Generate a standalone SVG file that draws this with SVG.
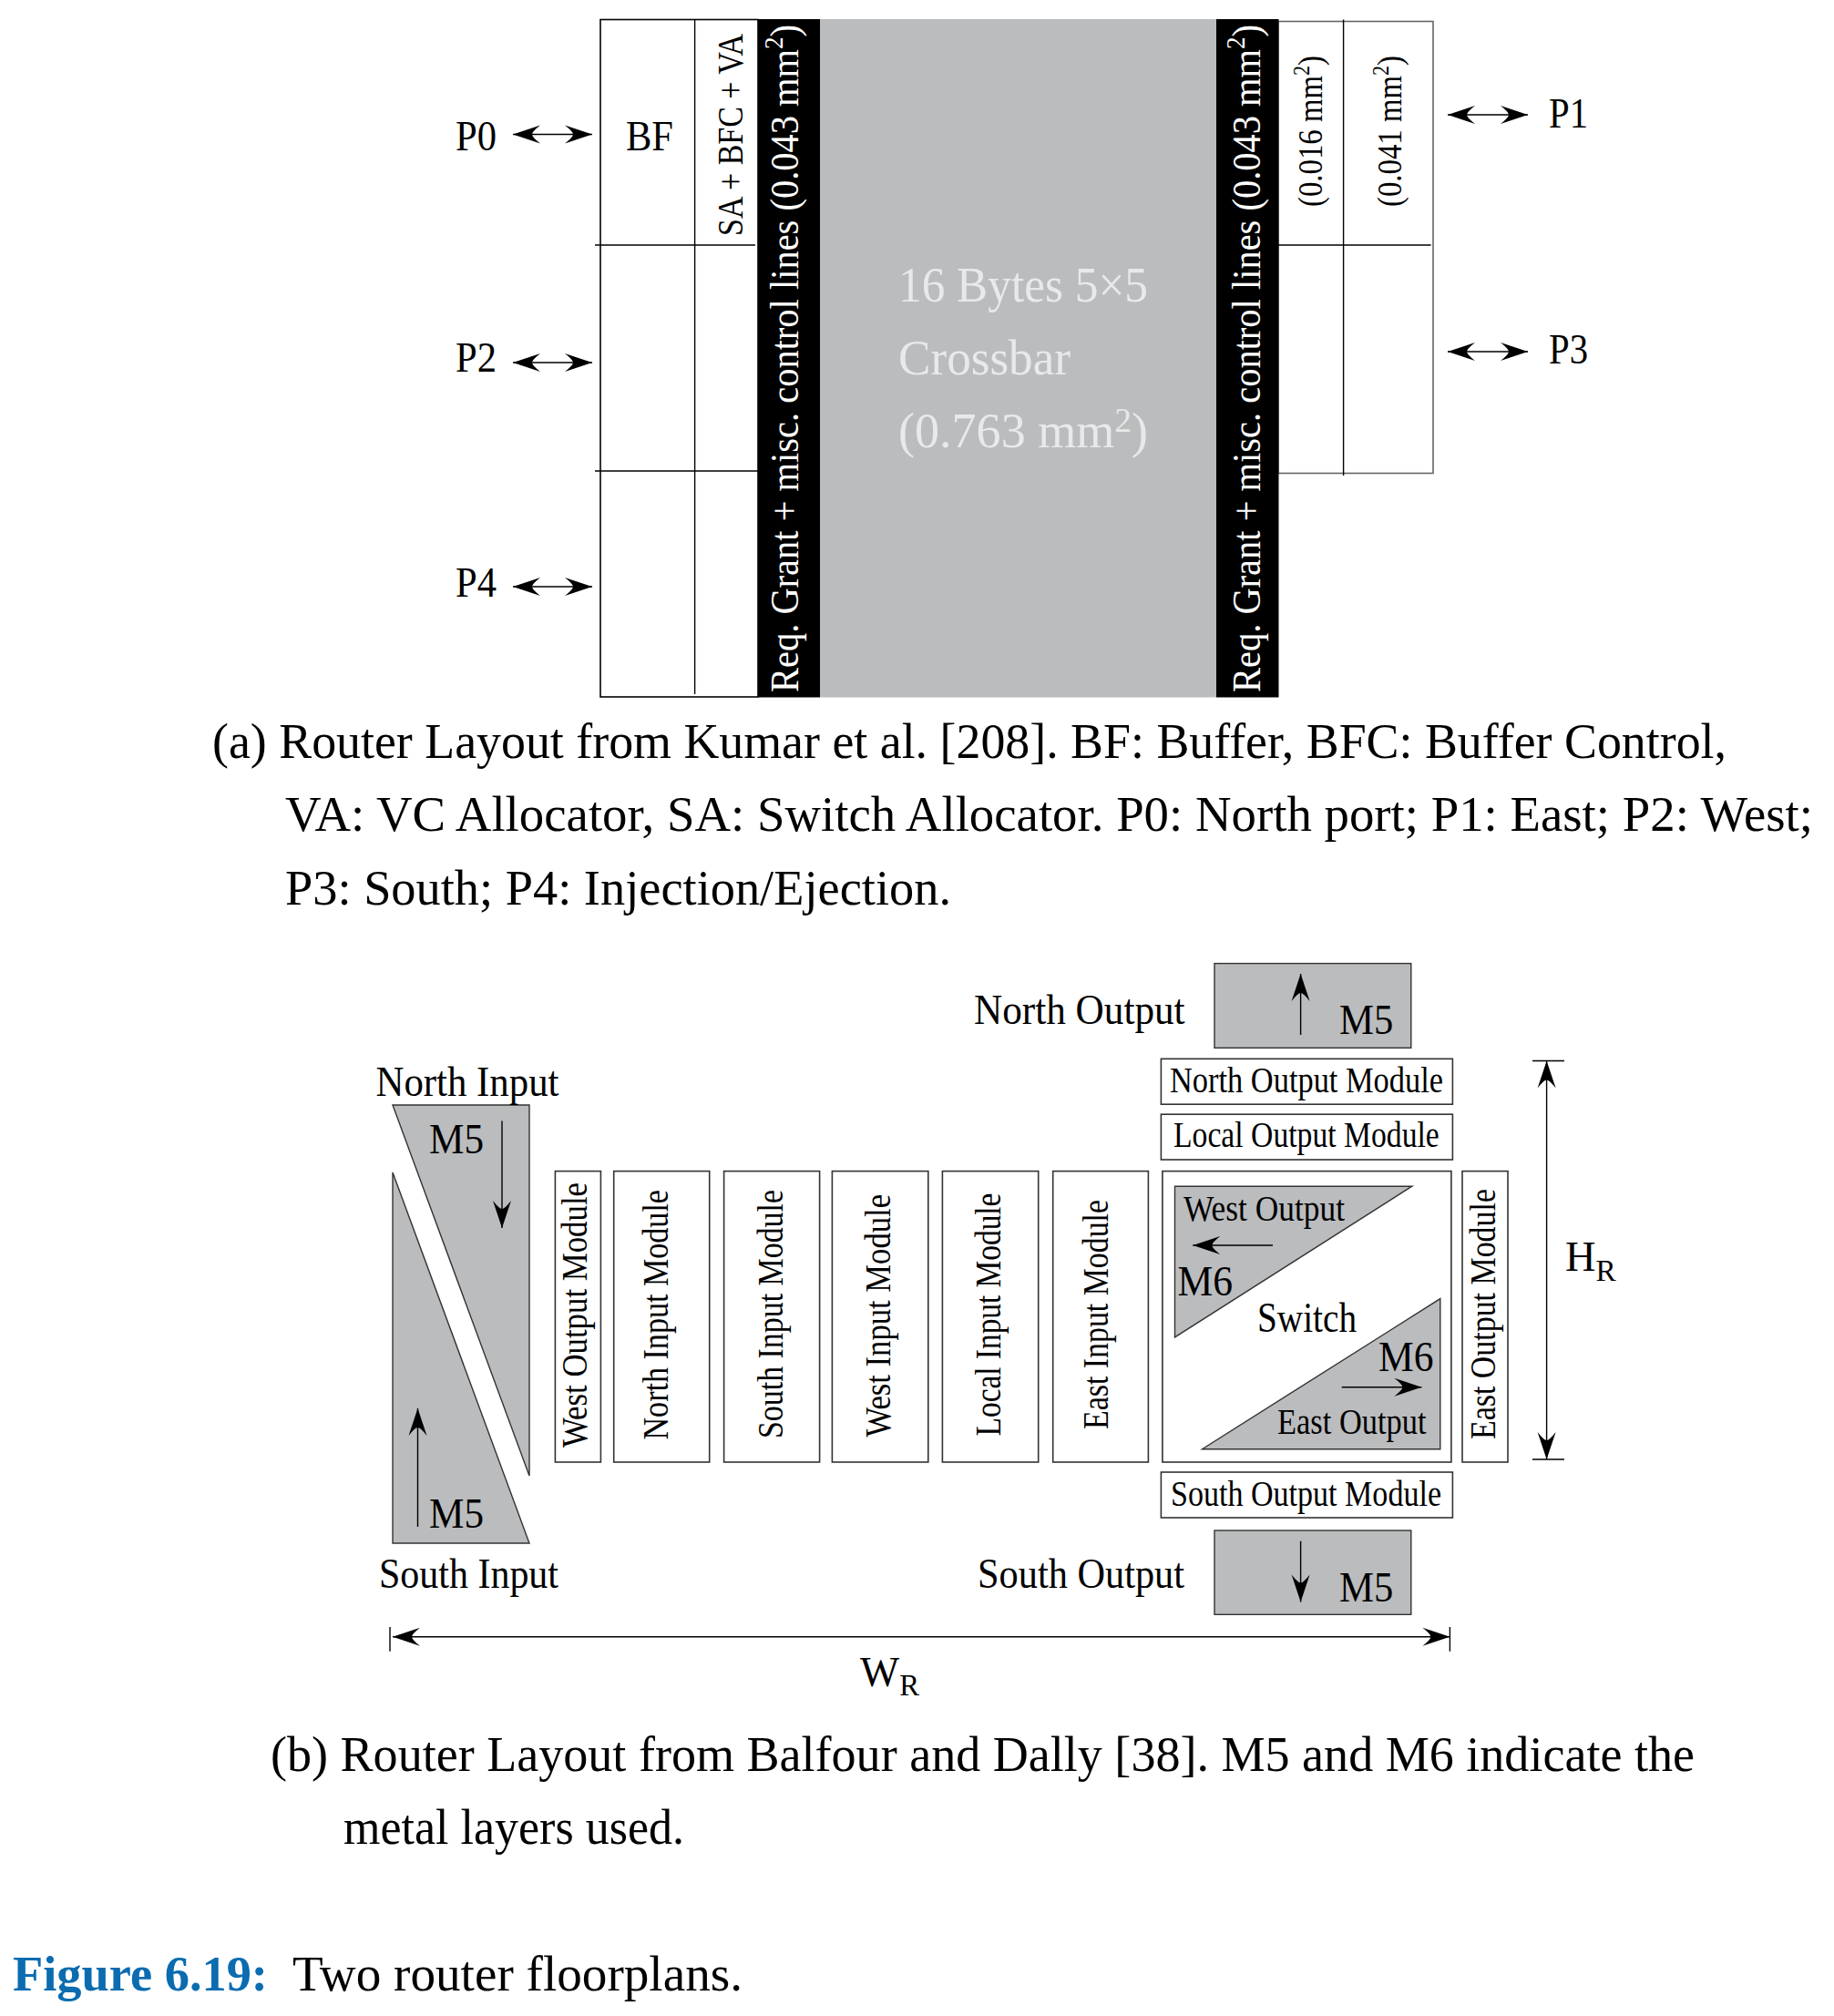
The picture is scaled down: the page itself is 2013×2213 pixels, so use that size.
<svg xmlns="http://www.w3.org/2000/svg" width="2013" height="2213" viewBox="0 0 2013 2213">
<style>
text{font-family:"Liberation Serif","Times New Roman",serif;fill:#000}
.cap{font-size:55px}.lab{font-size:46px}.mod{font-size:39px}.big{font-size:45px}
.w{fill:#fff}.x{fill:#e8e9ea;font-size:55px}
.box{fill:#fff;stroke:#333;stroke-width:1.6}
.g{fill:#bbbcbe;stroke:#333;stroke-width:1.4}
.ln{stroke:#000;stroke-width:1.4;fill:none}
.a{stroke:#000;stroke-width:1.4;fill:none;marker-end:url(#h)}
.aa{stroke:#000;stroke-width:1.4;fill:none;marker-end:url(#h);marker-start:url(#h)}
</style>
<defs><marker id="h" markerUnits="userSpaceOnUse" markerWidth="32" markerHeight="22" refX="31" refY="11" orient="auto-start-reverse"><path d="M31,11 L1,1 Q10,8 10,11 Q10,14 1,21Z" fill="#000"/></marker></defs>
<rect width="2013" height="2213" fill="#fff"/>

<g id="a-left-block">
<rect x="659" y="21.5" width="173" height="743.5" fill="#fff" stroke="#000" stroke-width="1.6"/>
<path class="ln" d="M762.6,21.5V762M653,269H829M653,517H832"/>
<text class="lab" x="687" y="165" textLength="52" lengthAdjust="spacingAndGlyphs">BF</text>
<text style="font-size:40px" transform="translate(815,259) rotate(-90)" textLength="222" lengthAdjust="spacingAndGlyphs">SA + BFC + VA</text>
</g>
<g id="a-right-block">
<rect x="1403" y="23.5" width="170" height="496" fill="#fff" stroke="#666" stroke-width="1.6"/>
<path class="ln" d="M1474.6,21.5V522M1403,269H1570.6"/>
<text style="font-size:37px" transform="translate(1451,227) rotate(-90)" textLength="166" lengthAdjust="spacingAndGlyphs">(0.016 mm<tspan font-size="25" dy="-14">2</tspan><tspan dy="14">)</tspan></text>
<text style="font-size:37px" transform="translate(1538,227) rotate(-90)" textLength="166" lengthAdjust="spacingAndGlyphs">(0.041 mm<tspan font-size="25" dy="-14">2</tspan><tspan dy="14">)</tspan></text>
</g>
<g id="a-crossbar">
<rect x="900" y="21" width="435" height="744.5" fill="#bbbcbe"/>
<text class="x" x="986" y="331" textLength="274" lengthAdjust="spacingAndGlyphs">16 Bytes 5×5</text>
<text class="x" x="986" y="411" textLength="189" lengthAdjust="spacingAndGlyphs">Crossbar</text>
<text class="x" x="986" y="491" textLength="274" lengthAdjust="spacingAndGlyphs">(0.763 mm<tspan font-size="38" dy="-17">2</tspan><tspan dy="17">)</tspan></text>
</g>
<g id="a-bar-left">
<rect x="832" y="21" width="68" height="744.5" fill="#000"/>
<text class="w big" transform="translate(876,760) rotate(-90)" textLength="733" lengthAdjust="spacingAndGlyphs">Req. Grant + misc. control lines (0.043 mm<tspan font-size="30" dy="-17">2</tspan><tspan dy="17">)</tspan></text>
</g>
<g id="a-bar-right">
<rect x="1335" y="21" width="68.5" height="744.5" fill="#000"/>
<text class="w big" transform="translate(1383,760) rotate(-90)" textLength="733" lengthAdjust="spacingAndGlyphs">Req. Grant + misc. control lines (0.043 mm<tspan font-size="30" dy="-17">2</tspan><tspan dy="17">)</tspan></text>
</g>
<g id="a-ports">
<text class="lab" x="500" y="165" textLength="45" lengthAdjust="spacingAndGlyphs">P0</text>
<text class="lab" x="500" y="408" textLength="45" lengthAdjust="spacingAndGlyphs">P2</text>
<text class="lab" x="500" y="655" textLength="45" lengthAdjust="spacingAndGlyphs">P4</text>
<text class="lab" x="1700" y="140" textLength="43" lengthAdjust="spacingAndGlyphs">P1</text>
<text class="lab" x="1700" y="399" textLength="43" lengthAdjust="spacingAndGlyphs">P3</text>
</g>
<g id="caption-a">
<text class="cap" x="233" y="832" textLength="1662" lengthAdjust="spacingAndGlyphs">(a) Router Layout from Kumar et al. [208]. BF: Buffer, BFC: Buffer Control,</text>
<text class="cap" x="313" y="912" textLength="1677" lengthAdjust="spacingAndGlyphs">VA: VC Allocator, SA: Switch Allocator. P0: North port; P1: East; P2: West;</text>
<text class="cap" x="313" y="993" textLength="731" lengthAdjust="spacingAndGlyphs">P3: South; P4: Injection/Ejection.</text>
</g>

<g id="north-input">
<polygon class="g" points="431,1213 581,1213 581,1620"/>
<text class="lab" x="471" y="1266" textLength="60" lengthAdjust="spacingAndGlyphs">M5</text>
<text class="lab" x="412.5" y="1203" textLength="201" lengthAdjust="spacingAndGlyphs">North Input</text>
</g>
<g id="south-input">
<polygon class="g" points="431,1287 431,1694 581,1694"/>
<text class="lab" x="471" y="1677" textLength="60" lengthAdjust="spacingAndGlyphs">M5</text>
<text class="lab" x="416" y="1743" textLength="197" lengthAdjust="spacingAndGlyphs">South Input</text>
</g>
<g id="west-output-module"><rect class="box" x="609.4" y="1285.6" width="50" height="319.4"/><text class="mod" transform="translate(644,1589) rotate(-90)" textLength="291" lengthAdjust="spacingAndGlyphs">West Output Module</text></g>
<g id="north-input-module"><rect class="box" x="673.7" y="1285.6" width="105" height="319.4"/><text class="mod" transform="translate(732.6,1580.5) rotate(-90)" textLength="274.5" lengthAdjust="spacingAndGlyphs">North Input Module</text></g>
<g id="south-input-module"><rect class="box" x="794.6" y="1285.6" width="105" height="319.4"/><text class="mod" transform="translate(858.5,1579) rotate(-90)" textLength="273" lengthAdjust="spacingAndGlyphs">South Input Module</text></g>
<g id="west-input-module"><rect class="box" x="913.4" y="1285.6" width="105.4" height="319.4"/><text class="mod" transform="translate(976.8,1577.5) rotate(-90)" textLength="266.5" lengthAdjust="spacingAndGlyphs">West Input Module</text></g>
<g id="local-input-module"><rect class="box" x="1034.4" y="1285.6" width="105.3" height="319.4"/><text class="mod" transform="translate(1098,1576.4) rotate(-90)" textLength="266.8" lengthAdjust="spacingAndGlyphs">Local Input Module</text></g>
<g id="east-input-module"><rect class="box" x="1155.7" y="1285.6" width="104.7" height="319.4"/><text class="mod" transform="translate(1216,1569) rotate(-90)" textLength="252" lengthAdjust="spacingAndGlyphs">East Input Module</text></g>
<g id="switch">
<rect class="box" x="1275.9" y="1285.6" width="317" height="319.4"/>
<polygon class="g" points="1289.5,1302.2 1549.8,1302.2 1289.5,1467.9"/>
<polygon class="g" points="1580.8,1425.6 1580.8,1590.7 1319.5,1590.7"/>
<text class="mod" x="1299" y="1340" textLength="177" lengthAdjust="spacingAndGlyphs">West Output</text>
<text class="mod" x="1402" y="1574" textLength="163.6" lengthAdjust="spacingAndGlyphs">East Output</text>
<text class="lab" x="1292.4" y="1422" textLength="60.6" lengthAdjust="spacingAndGlyphs">M6</text>
<text class="lab" x="1513" y="1504.5" textLength="60.5" lengthAdjust="spacingAndGlyphs">M6</text>
<text class="lab" x="1380" y="1462" textLength="109" lengthAdjust="spacingAndGlyphs">Switch</text>
</g>
<g id="east-output-module"><rect class="box" x="1605" y="1285.6" width="50" height="319.4"/><text class="mod" transform="translate(1641,1580) rotate(-90)" textLength="275" lengthAdjust="spacingAndGlyphs">East Output Module</text></g>
<g id="north-output-module"><rect class="box" x="1274.4" y="1162.3" width="320" height="49.9"/><text class="mod" x="1284" y="1199" textLength="300" lengthAdjust="spacingAndGlyphs">North Output Module</text></g>
<g id="local-output-module"><rect class="box" x="1274.4" y="1223.2" width="320" height="49.8"/><text class="mod" x="1288" y="1259" textLength="291.8" lengthAdjust="spacingAndGlyphs">Local Output Module</text></g>
<g id="south-output-module"><rect class="box" x="1274.4" y="1616" width="320" height="50"/><text class="mod" x="1285" y="1653" textLength="297" lengthAdjust="spacingAndGlyphs">South Output Module</text></g>
<g id="north-output">
<rect class="g" x="1333" y="1057.6" width="215.8" height="92.7"/>
<text class="lab" x="1470" y="1134.5" textLength="59.3" lengthAdjust="spacingAndGlyphs">M5</text>
<text class="lab" x="1069" y="1123.5" textLength="231.6" lengthAdjust="spacingAndGlyphs">North Output</text>
</g>
<g id="south-output">
<rect class="g" x="1333" y="1680" width="215.8" height="92.3"/>
<text class="lab" x="1470" y="1758" textLength="59.3" lengthAdjust="spacingAndGlyphs">M5</text>
<text class="lab" x="1073" y="1743" textLength="227" lengthAdjust="spacingAndGlyphs">South Output</text>
</g>
<g id="dimensions">
<text class="lab" x="1718" y="1395" textLength="55.7" lengthAdjust="spacingAndGlyphs">H<tspan font-size="33" dy="10.8">R</tspan></text>
<text class="lab" x="944" y="1851" textLength="65" lengthAdjust="spacingAndGlyphs">W<tspan font-size="33" dy="9.6">R</tspan></text>
</g>
<g id="caption-b">
<text class="cap" x="297" y="1944" textLength="1563" lengthAdjust="spacingAndGlyphs">(b) Router Layout from Balfour and Dally [38]. M5 and M6 indicate the</text>
<text class="cap" x="377" y="2024" textLength="374" lengthAdjust="spacingAndGlyphs">metal layers used.</text>
</g>
<g id="figure-title">
<text class="cap" x="14" y="2185" textLength="280" lengthAdjust="spacingAndGlyphs" font-weight="700" style="fill:#0b6cb0">Figure 6.19:</text>
<text class="cap" x="321" y="2185" textLength="494" lengthAdjust="spacingAndGlyphs">Two router floorplans.</text>
</g>

<g id="connectors">
<line class="aa" x1="563" y1="147.5" x2="650" y2="147.5"/>
<line class="aa" x1="563" y1="398" x2="650" y2="398"/>
<line class="aa" x1="563" y1="644" x2="650" y2="644"/>
<line class="aa" x1="1589" y1="126" x2="1677" y2="126"/>
<line class="aa" x1="1589" y1="386" x2="1677" y2="386"/>
<line class="a" x1="551" y1="1230.5" x2="551" y2="1348"/>
<line class="a" x1="458.5" y1="1676" x2="458.5" y2="1546"/>
<line class="a" x1="1427.6" y1="1136" x2="1427.6" y2="1069"/>
<line class="a" x1="1427.6" y1="1691.7" x2="1427.6" y2="1758.6"/>
<line class="a" x1="1397" y1="1367" x2="1309.3" y2="1367"/>
<line class="a" x1="1472.7" y1="1522.7" x2="1560.4" y2="1522.7"/>
<line class="aa" x1="1697.6" y1="1164.5" x2="1697.6" y2="1602"/>
<line class="aa" x1="431" y1="1796.8" x2="1591.4" y2="1796.8"/>
<path class="ln" d="M1682,1164.5H1717M1682,1602H1717M428,1786V1812.7M1591.4,1786V1812.7"/>
</g>
</svg>
